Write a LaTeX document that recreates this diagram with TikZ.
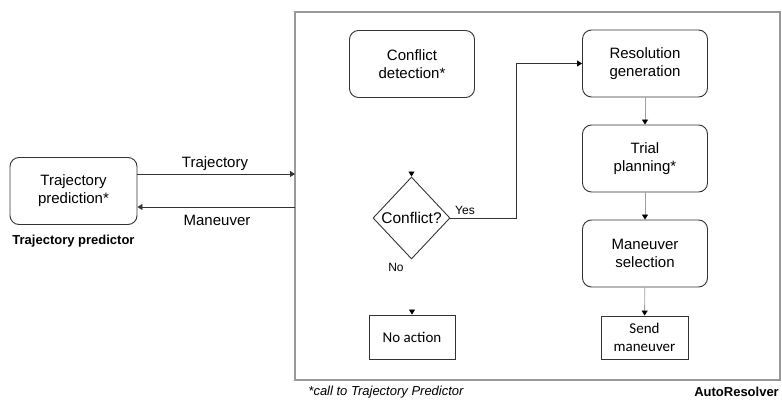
\documentclass[tikz,border=0pt]{standalone}
\usepackage{fontspec}
\setmainfont{Liberation Sans}
\newfontfamily\calibfont{Carlito}
\usetikzlibrary{arrows.meta,shapes.geometric,calc}

\definecolor{boxline}{RGB}{51,51,51}
\definecolor{linkgray}{RGB}{160,160,160}
\definecolor{framegray}{RGB}{153,153,153}

\tikzset{every picture/.style={line width=0.9pt}}
\tikzset{
  stepround/.style={draw=boxline, rounded corners=9, minimum width=125, minimum height=67, align=center, inner sep=0.75pt, font=\fontsize{15}{18}\selectfont},
  stepplain/.style={draw=boxline, align=center, inner sep=0.75pt, font=\calibfont\fontsize{15}{18}\selectfont},
  darrow/.style={draw=boxline, -{Triangle[width=6pt,length=5pt]}},
  garrow/.style={draw=linkgray, -{Triangle[width=6pt,length=5pt,color=black]}},
  lbl/.style={inner sep=0.75pt, font=\fontsize{15}{18}\selectfont},
  small/.style={inner sep=0.75pt, font=\fontsize{12}{14}\selectfont}
}

\begin{document}
\begin{tikzpicture}[x=1pt,y=1pt,yscale=-1,xscale=1]
\useasboundingbox (0,0) rectangle (782,403);

%Frame: AutoResolver
\draw [draw=framegray, line width=1.5] (295,12) rectangle (780,380);

% Trajectory predictor side
\node [stepround, minimum width=127, minimum height=67] (tp) at (73.5,191) {Trajectory\\prediction*};
\node [inner sep=0.75pt, font=\bfseries\fontsize{13}{15}\selectfont] (tplbl) at (73.5,241) {Trajectory predictor};

\coordinate (arIn) at (295,174);
\coordinate (arOut) at (295,207);
\draw [darrow] (tp.east |- arIn) -- (arIn);
\draw [darrow] (arOut) -- (tp.east |- arOut);
\node [lbl] (trajlbl) at (215,164) {Trajectory};
\node [lbl] (manlbl) at (217,220) {Maneuver};

% Left column
\node [stepround] (cd) at (412,64) {Conflict\\detection*};
\node [diamond, draw=boxline, minimum width=77, minimum height=82, inner sep=0pt, font=\fontsize{15.5}{18}\selectfont] (conf) at (411.5,218) {Conflict?};
\node [stepplain, minimum width=86, minimum height=44] (noact) at (412,337) {No action};

\coordinate (confIn) at (411.5,172);
\coordinate (noIn) at (412,310);
\draw [garrow] (confIn) -- (conf.north);
\draw [garrow] (noIn) -- (noact.north);
\node [small] (yes) at (465,210) {Yes};
\node [small] (no) at (396,267) {No};

% Right column
\node [stepround] (resgen) at (645,63.5) {Resolution\\generation};
\node [stepround] (trial) at (645,158.5) {Trial\\planning*};
\node [stepround] (mansel) at (645,253.5) {Maneuver\\selection};
\node [stepplain, minimum width=87, minimum height=43] (send) at (644.5,337.5) {Send\\maneuver};

\draw [garrow, draw=boxline] (conf.east) -- ++(66,0) |- (resgen.west);
\draw [garrow] (resgen) -- (trial);
\draw [garrow] (trial) -- (mansel);
\draw [garrow] (mansel) -- (send);

% Notes
\node [inner sep=0.75pt, font=\itshape\fontsize{13}{15}\selectfont] (note) at (386,392) {*call to Trajectory Predictor};
\node [inner sep=0.75pt, font=\bfseries\fontsize{13}{15}\selectfont, anchor=east] (arlbl) at (780,392) {AutoResolver};

\end{tikzpicture}
\end{document}
